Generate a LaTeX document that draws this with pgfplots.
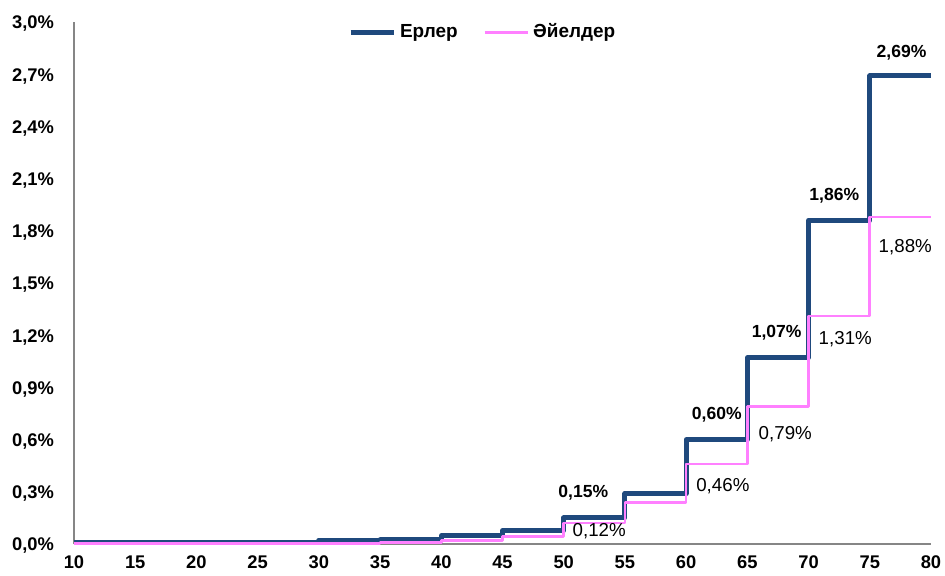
\documentclass[border=0pt]{standalone}
\usepackage{pgfplots}
\pgfplotsset{compat=1.18}
\usepackage{fontspec}
\setmainfont{Liberation Sans}

\definecolor{men}{RGB}{31,73,125}
\definecolor{women}{RGB}{255,128,255}
\definecolor{axisgray}{RGB}{134,134,134}

\begin{document}
\begin{tikzpicture}
\useasboundingbox (-37bp,-16bp) rectangle (435.5bp,272bp);
\begin{axis}[
  scale only axis,
  width=428.5bp, height=261bp,
  xmin=10, xmax=80, ymin=0, ymax=3.0,
  xtick={10,15,...,80},
  ytick={0,0.3,0.6,0.9,1.2,1.5,1.8,2.1,2.4,2.7,3.0},
  axis lines*=left,
  axis line style={axisgray, line width=0.6bp},
  major tick length=0pt,
  clip=false,
  /pgf/number format/assume math mode=true,
  tick label style={font=\fontsize{9.2}{11}\selectfont\bfseries, text=black},
  yticklabel={\pgfmathprintnumber[fixed,fixed zerofill,precision=1,use comma]{\tick}\%},
  yticklabel style={xshift=-6.5bp, yshift=-1bp},
  xticklabel style={yshift=-2.2bp},
  legend columns=2,
  legend style={at={(0.478,0.98)}, anchor=center, draw=none, fill=none,
    font=\fontsize{9.5}{11}\selectfont\bfseries,
    /tikz/every even column/.append style={column sep=11bp}},
  legend image code/.code={\draw[#1] (0bp,0bp) -- (21.5bp,0bp);},
]
% men: share by age band, each value holds over [x, x+5)
\addplot[const plot, men, line width=2.5bp, line join=round] coordinates {
  (10,0.008) (30,0.019) (35,0.027) (40,0.046) (45,0.076) (50,0.15)
  (55,0.29) (60,0.60) (65,1.07) (70,1.86) (75,2.69) (80,2.69)};
\addlegendentry{Ерлер}
% women
\addplot[const plot, women, line width=1.3bp, line join=round] coordinates {
  (10,0.003) (30,0.004) (35,0.010) (40,0.020) (45,0.042) (50,0.12)
  (55,0.24) (60,0.46) (65,0.79) (70,1.31) (75,1.88) (80,1.88)};
\addlegendentry{Әйелдер}

% value labels, men (bold, above the step)
\node[font=\fontsize{8.8}{10}\selectfont\bfseries, yshift=12.5bp] at (axis cs:51.6,0.15) {0,15\%};
\node[font=\fontsize{8.8}{10}\selectfont\bfseries, yshift=12.5bp] at (axis cs:62.5,0.60) {0,60\%};
\node[font=\fontsize{8.8}{10}\selectfont\bfseries, yshift=12.5bp] at (axis cs:67.4,1.07) {1,07\%};
\node[font=\fontsize{8.8}{10}\selectfont\bfseries, yshift=12.5bp] at (axis cs:72.1,1.86) {1,86\%};
\node[font=\fontsize{8.8}{10}\selectfont\bfseries, yshift=11.5bp] at (axis cs:77.6,2.69) {2,69\%};
% value labels, women (regular, below the step)
\node[font=\fontsize{9.4}{11}\selectfont, yshift=-4.2bp] at (axis cs:52.9,0.12) {0,12\%};
\node[font=\fontsize{9.4}{11}\selectfont, yshift=-11.3bp] at (axis cs:63.0,0.46) {0,46\%};
\node[font=\fontsize{9.4}{11}\selectfont, yshift=-13.7bp] at (axis cs:68.1,0.79) {0,79\%};
\node[font=\fontsize{9.4}{11}\selectfont, yshift=-11.5bp] at (axis cs:73.0,1.31) {1,31\%};
\node[font=\fontsize{9.4}{11}\selectfont, yshift=-15bp] at (axis cs:77.9,1.88) {1,88\%};
\end{axis}
\end{tikzpicture}
\end{document}
